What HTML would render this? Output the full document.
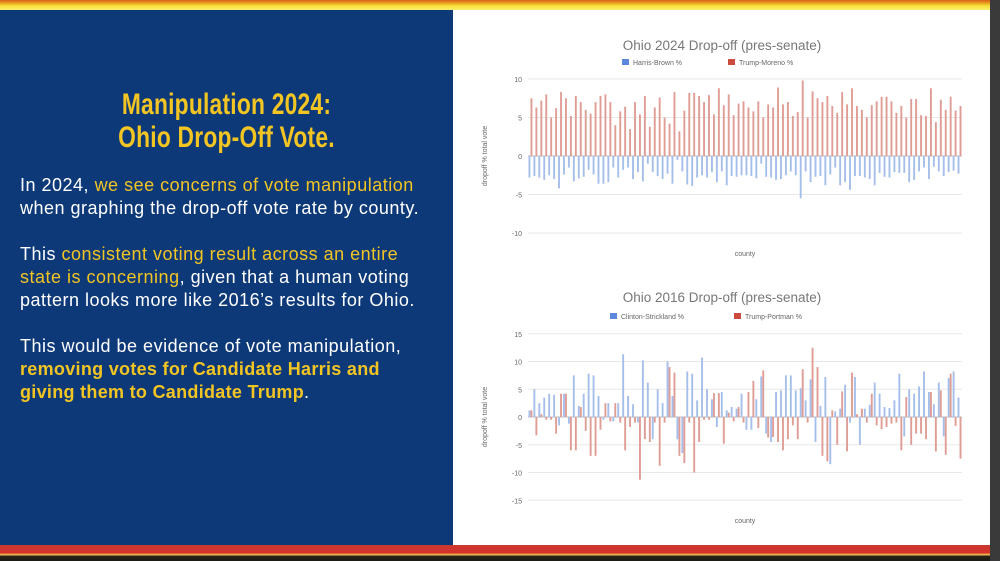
<!DOCTYPE html>
<html><head><meta charset="utf-8">
<style>
*{margin:0;padding:0;box-sizing:border-box}
body{width:1000px;height:561px;overflow:hidden;background:#1a1a1a;font-family:"Liberation Sans",sans-serif;position:relative}
#topbar{position:absolute;left:0;top:0;width:990px;height:10px;background:linear-gradient(#d8601a 0,#e8a020 3px,#f6e23a 6px,#fbf070 10px)}
#left{position:absolute;left:0;top:10px;width:453px;height:535px;background:#0d3978}
#right{position:absolute;left:453px;top:10px;width:537px;height:535px;background:#fff}
#edge{position:absolute;left:990px;top:0;width:10px;height:561px;background:#3a3a3a}
#botbar{position:absolute;left:0;top:545px;width:990px;height:16px;background:linear-gradient(#c83a30 0,#d8302a 8px,#e8a040 9px,#f0c060 10px,#2a2418 11px,#1a1a14 16px)}
.title{position:absolute;left:0;width:453px;text-align:center;color:#f2c523;font-family:"Liberation Sans Narrow","Liberation Sans",sans-serif;font-weight:bold;font-size:30px;line-height:33px;top:88px;transform:scaleX(0.76);letter-spacing:0.3px}
.body{position:absolute;left:20px;color:#fff;font-size:18px;line-height:23px;letter-spacing:0.5px;white-space:nowrap}
.y{color:#f2c523}
.b{font-weight:bold;letter-spacing:0.3px}
</style></head><body>
<div id="topbar"></div>
<div id="left">
</div>
<div class="title">Manipulation 2024:<br>Ohio Drop-Off Vote.</div>
<div class="body" style="top:174px">In 2024, <span class="y">we see concerns of vote manipulation</span><br>when graphing the drop-off vote rate by county.</div>
<div class="body" style="top:243px">This <span class="y">consistent voting result across an entire<br>state is concerning</span>, given that a human voting<br>pattern looks more like 2016’s results for Ohio.</div>
<div class="body" style="top:335px">This would be evidence of vote manipulation,<br><span class="y b">removing votes for Candidate Harris and<br>giving them to Candidate Trump</span>.</div>
<div id="right"></div>
<div id="edge"></div>
<div id="botbar"></div>
<svg id="charts" width="1000" height="561" style="position:absolute;left:0;top:0"></svg>
<script>
const harris2024=[-2.8,-2.6,-2.8,-3.1,-2.5,-3,-4.2,-2.4,-1.5,-3.3,-2.9,-2.7,-1.8,-2.4,-3.6,-3.6,-3.4,-1.5,-2.8,-1.8,-1.5,-3,-2.1,-3.3,-1,-2.1,-2.6,-3,-2.3,-3.6,-0.5,-2,-3.7,-3.9,-2.8,-2.5,-2.8,-2.1,-3.4,-2,-3.8,-2.6,-2.7,-2.5,-2.5,-2.6,-2.9,-1,-2.7,-2.8,-3.1,-3,-2.5,-2,-2.5,-5.5,-2,-3.4,-2.7,-2.6,-3.8,-2.4,-1.5,-3.8,-3.4,-4.4,-2.6,-2.6,-2.8,-3,-3.8,-2.2,-2.7,-2.8,-2.1,-2.2,-2.2,-3.4,-3.1,-2,-1.5,-3,-1.4,-2,-2.6,-2.1,-1.9,-2.3];
const trump2024=[7.5,6.3,7.2,8,5,6.2,8.3,7.5,5.2,7.8,7,6,5.5,7,7.8,8,7,4,5.8,6.4,3.5,7,5.4,7.8,3.8,6.3,7.6,5,4.2,8.3,3.2,5.9,8.2,8.2,7.8,7,7.9,5.4,8.8,6.6,8,5.3,6.8,7.1,6.3,5.8,7.1,5,6.7,6.3,8.9,6.7,7,5.2,5.7,9.8,5,8.4,7.5,7,7.8,6.5,5.6,8.3,6.7,8.8,6.5,6,5,6.6,7.1,7.7,7.7,7.1,5.6,6.5,5,7.4,7.4,5.3,5.2,8.8,4.4,7.3,6,7.7,5.9,6.5];
const clinton2016=[1.2,5,2.5,3.5,4.2,4,-1.5,4.2,-1.2,7.5,2,4.2,7.8,7.5,3.8,-0.5,2.5,-0.8,2.5,11.3,3.8,2.3,-1,10.2,6.2,-4,5,2.5,10,3.8,-4,-6.5,8.2,7.8,3,10.7,5,3.2,-1.8,4.5,1.2,1.8,1.5,4.2,-2.3,-2.3,3.2,7.3,-3,-4.5,4.5,4.8,7.5,7.5,4.8,5.2,3,6.8,-4.5,2,7.2,-8.5,1,1.5,5.8,-1,7.2,-5,1.5,2.2,6.2,4.2,1.8,1.6,3,7.8,-3.5,5,4.2,5.5,8.2,4.5,2.3,6.2,-3.5,7,8.2,3.5];
const trumpPortman2016=[1.2,-3.3,0.5,-0.5,-0.5,-3,4.2,4.2,-6,-6,1.8,-2.5,-7,-7,-2.3,2.5,-0.8,2.5,-1,-6,-1.8,-1,-11.3,-4,-4.5,-1,-8.8,-1,9,8,-7,-8.3,-1,-10,-4.5,-0.5,-0.5,4.3,4.3,-4.8,0.8,-0.8,1.8,-1,4.5,6.5,-2,8.4,-3.7,-3.6,-4.5,-6,-4,-1.5,-4,8.6,-1,12.5,9,-7,-8,1.2,-5,4.6,-6.2,8,0.5,1.5,-1,4.2,-1.5,-2.2,-1.8,-1.2,-1,-6,3.6,-5,-3,-3,-4,4.5,-6.2,4.8,-6.8,7.8,-1.6,-7.5];
const ticks2024=[10,5,0,-5,-10];
const ticks2016=[15,10,5,0,-5,-10,-15];
const svg=document.getElementById('charts');
const NS='http://www.w3.org/2000/svg';
function el(tag,attrs,txt){const e=document.createElementNS(NS,tag);for(const k in attrs)e.setAttribute(k,attrs[k]);if(txt!==undefined)e.textContent=txt;svg.appendChild(e);return e;}
function chart(cfg,seriesA,seriesB,ticks){
  const x0=528,x1=962;
  const ys=v=>cfg.zeroY-v*cfg.ppu;
  const n=seriesA.length, step=(x1-x0)/n;
  ticks.forEach(t=>{
    const g=el('line',{x1:x0,x2:x1,y1:ys(t),y2:ys(t),stroke:t===0?'#bbb':'#e8e8e8','stroke-width':1});
    
    
    const tl=el('text',{x:x0-6,y:ys(t)+3,'text-anchor':'end','font-size':7,fill:'#666','font-family':'Liberation Sans'},String(t));
    
    
  });
  seriesA.forEach((v,i)=>{
    const x=x0+i*step+0.5;
    const r=el('rect',{x:x,y:Math.min(ys(v),ys(0)),width:1.9,height:Math.abs(ys(v)-ys(0)),fill:'#a6bfea'});
    
    
  });
  seriesB.forEach((v,i)=>{
    const x=x0+i*step+2.5;
    const r=el('rect',{x:x,y:Math.min(ys(v),ys(0)),width:1.9,height:Math.abs(ys(v)-ys(0)),fill:'#df9d95'});
    
    
  });
  const t=el('text',{x:722,y:cfg.titleY,'text-anchor':'middle','font-size':13.5,fill:'#777','font-family':'Liberation Sans'},cfg.title);
  
  
  const l1=el('rect',{x:cfg.legX1,y:cfg.legY-4,width:7,height:6,fill:'#5b87dd'});
  
  
  const lt1=el('text',{x:cfg.legX1+11,y:cfg.legY+2,'font-size':7,fill:'#666','font-family':'Liberation Sans'},cfg.legA);
  
  
  const l2=el('rect',{x:cfg.legX2,y:cfg.legY-4,width:7,height:6,fill:'#cc4a3e'});
  
  
  const lt2=el('text',{x:cfg.legX2+11,y:cfg.legY+2,'font-size':7,fill:'#666','font-family':'Liberation Sans'},cfg.legB);
  
  
  const xl=el('text',{x:745,y:cfg.xlabY,'text-anchor':'middle','font-size':7,fill:'#666','font-family':'Liberation Sans'},'county');
  
  
  const yl=el('text',{x:0,y:0,'text-anchor':'middle','font-size':7,fill:'#666','font-family':'Liberation Sans',transform:`translate(487,${cfg.zeroY}) rotate(-90)`},'dropoff % total vote');
  
  
}
chart({zeroY:156,ppu:7.7,title:'Ohio 2024 Drop-off (pres-senate)',titleY:50,legY:63,legX1:622,legX2:728,legA:'Harris-Brown %',legB:'Trump-Moreno %',xlabY:256},harris2024,trump2024,ticks2024);
chart({zeroY:417,ppu:5.55,title:'Ohio 2016 Drop-off (pres-senate)',titleY:302,legY:317,legX1:610,legX2:734,legA:'Clinton-Strickland %',legB:'Trump-Portman %',xlabY:523},clinton2016,trumpPortman2016,ticks2016);
</script>
</body></html>
